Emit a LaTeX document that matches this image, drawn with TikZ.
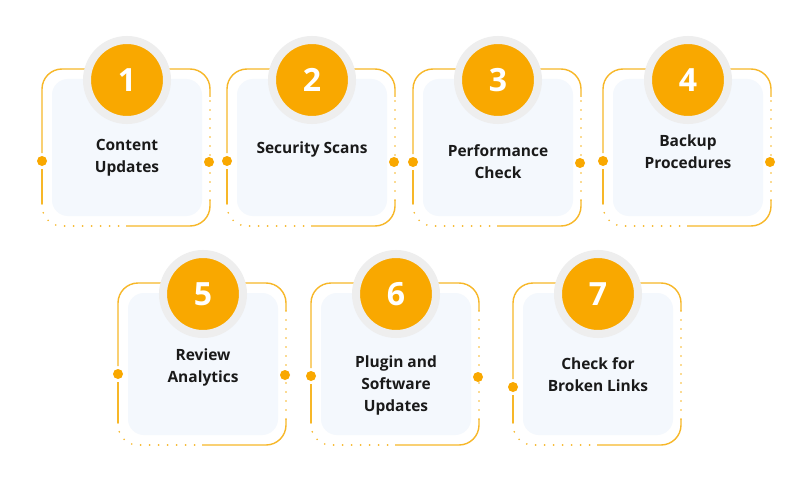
\documentclass[tikz,border=0pt]{standalone}
\usepackage{fontspec}
\setmainfont{Open Sans}
\definecolor{stepgold}{RGB}{249,168,0}
\definecolor{edgegold}{RGB}{247,183,40}
\definecolor{cardfill}{RGB}{244,248,253}
\definecolor{halogray}{RGB}{238,238,238}
\definecolor{inkblack}{RGB}{26,26,26}

\begin{document}
\begin{tikzpicture}[x=1pt, y=-1pt]
        \tikzset{solidedge/.style={draw=edgegold, line width=1.4pt, rounded corners=20pt}}
        \tikzset{dottededge/.style={draw=edgegold, line width=1.8pt, line cap=round, dash pattern=on 0pt off 9pt, rounded corners=20pt}}
        \tikzset{cardbox/.style={fill=cardfill, rounded corners=16pt, inner sep=0pt}}
        \tikzset{badge/.style={circle, fill=stepgold, draw=halogray, line width=8pt, minimum size=80pt, inner sep=0pt, text=white, font=\fontsize{32}{32}\selectfont\bfseries}}
        \tikzset{pin/.style={circle, fill=stepgold, inner sep=0pt, minimum size=10pt}}
        \tikzset{steplabel/.style={align=center, text=inkblack, font=\fontsize{15.5}{22}\selectfont\bfseries}}
        \fill[white] (0,0) rectangle (800,492);
        % one card per step: number / left / top / height / pin offset / text y / right pin / label
        \foreach \n/\l/\t/\h/\dy/\ty/\rd/\txt in {
            1/42/69/157/92/158/1/{Content\\Updates},
            2/227/69/157/92/149/1/{Security Scans},
            3/413/69/157/93/162/1/{Performance\\Check},
            4/603/69/157/92/152/1/{Backup\\Procedures},
            5/118/283/162/91/367/1/{Review\\Analytics},
            6/311/283/162/93/385/1/{Plugin and\\Software\\Updates},
            7/513/283/162/104/375/0/{Check for\\Broken Links}} {
            \pgfmathsetmacro{\r}{\l+168}
            \pgfmathsetmacro{\b}{\t+\h}
            \pgfmathsetmacro{\p}{\t+\dy}
            \node[cardbox, minimum width=150pt, minimum height=\h pt-20pt] (card\n) at (\l+85, \t+\h/2) {};
            \draw[solidedge] (\l, \p-8) -- (\l, \t) -- (\r, \t) -- (\r, \t+28);
            \draw[solidedge] (\l, \p+8) -- (\l, \b-22);
            \draw[dottededge] (\l, \b-22) -- (\l, \b) -- (\l+84, \b);
            \draw[solidedge] (\l+84, \b) -- (\r, \b) -- (\r, \b-26);
            \draw[dottededge] (\r, \b-26) -- (\r, \t+28);
            \node[badge] (badge\n) at (\l+85, \t+11) {\n};
            \node[steplabel] (label\n) at (\l+85, \ty) {\txt};
            \node[pin] (inpin\n) at (\l, \p) {};
            \ifnum\rd=1 \node[pin] (outpin\n) at (\r-1, \p+1) {}; \fi
        }
    \end{tikzpicture}
\end{document}
